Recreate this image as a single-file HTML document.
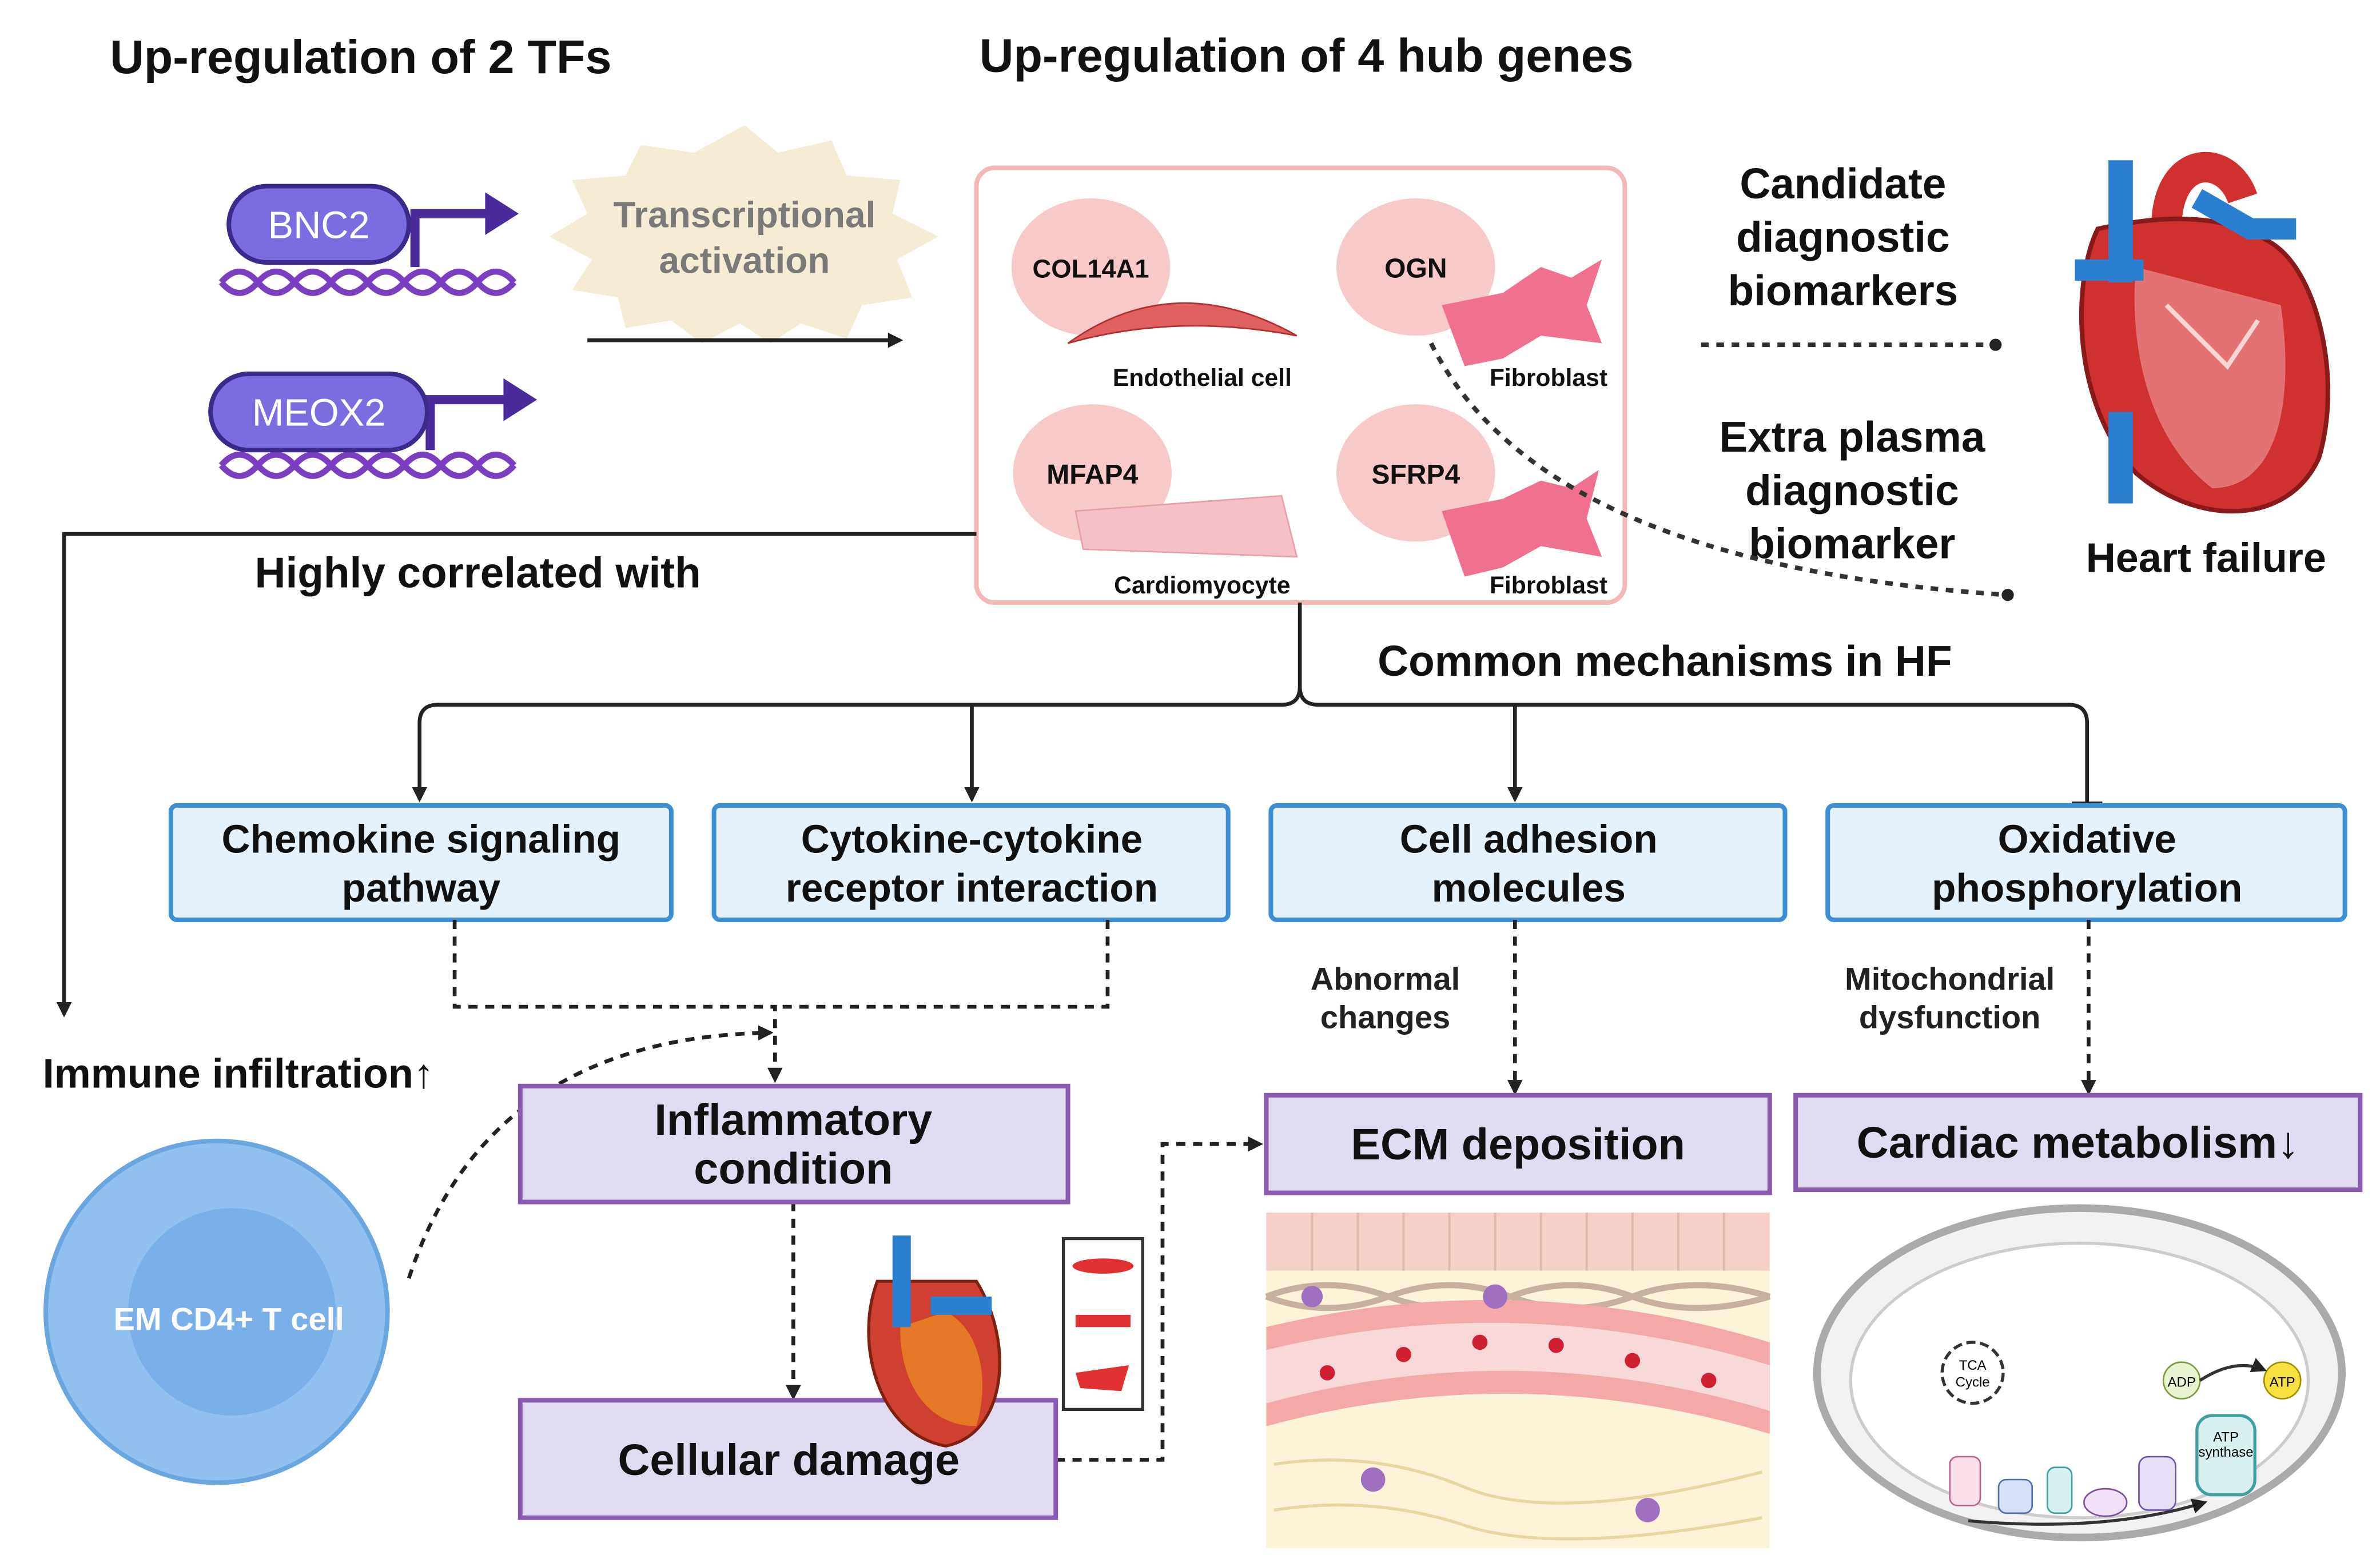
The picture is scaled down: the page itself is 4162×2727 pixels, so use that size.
<!DOCTYPE html>
<html><head><meta charset="utf-8"><style>html,body{margin:0;padding:0;background:#fff}svg{display:block}text{font-family:"Liberation Sans",sans-serif}</style></head>
<body>
<svg width="4162" height="2727" viewBox="0 0 1560 1022" xmlns="http://www.w3.org/2000/svg">
<defs>
<marker id="ah" markerWidth="10" markerHeight="10" refX="8" refY="5" orient="auto" markerUnits="userSpaceOnUse"><path d="M0,0 L10,5 L0,10 z" fill="#222"/></marker>
<marker id="dot" markerWidth="10" markerHeight="10" refX="5" refY="5" markerUnits="userSpaceOnUse"><circle cx="5" cy="5" r="4" fill="#222"/></marker>
</defs>
<g font-weight="bold" fill="#111">
<text x="72" y="48" font-size="31">Up-regulation of 2 TFs</text>
<text x="642" y="47" font-size="31">Up-regulation of 4 hub genes</text>
</g>
<!-- DNA -->
<g stroke="#7a3fc0" stroke-width="4" fill="none">
<path d="M145,185 q12,-14 24,0 t24,0 t24,0 t24,0 t24,0 t24,0 t24,0 t24,0"/>
<path d="M145,185 q12,14 24,0 t24,0 t24,0 t24,0 t24,0 t24,0 t24,0 t24,0"/>
<path d="M145,305 q12,-14 24,0 t24,0 t24,0 t24,0 t24,0 t24,0 t24,0 t24,0"/>
<path d="M145,305 q12,14 24,0 t24,0 t24,0 t24,0 t24,0 t24,0 t24,0 t24,0"/>
</g>
<g stroke="#4b2a9a" stroke-width="6" fill="none">
<path d="M272,175 V140 H320"/><path d="M282,295 V262 H332"/>
</g>
<path d="M318,126 L340,140 L318,154z" fill="#4b2a9a"/><path d="M330,248 L352,262 L330,276z" fill="#4b2a9a"/>
<rect x="150" y="122" width="118" height="50" rx="25" fill="#7b6ce0" stroke="#3b2a8a" stroke-width="3"/>
<text x="209" y="156" font-size="25" fill="#fff" text-anchor="middle">BNC2</text>
<rect x="138" y="245" width="142" height="50" rx="25" fill="#7b6ce0" stroke="#3b2a8a" stroke-width="3"/>
<text x="209" y="279" font-size="25" fill="#fff" text-anchor="middle">MEOX2</text>
<!-- starburst -->
<polygon points="488,82 510,100 545,92 555,115 590,118 585,140 615,155 588,170 598,195 565,200 555,222 525,212 505,225 485,212 460,225 440,210 410,215 405,195 375,190 388,170 360,155 385,140 375,118 410,115 420,95 455,100" fill="#f6ecd6"/>
<text x="488" y="149" font-size="24" font-weight="bold" fill="#7a7a7a" text-anchor="middle">Transcriptional</text>
<text x="488" y="179" font-size="24" font-weight="bold" fill="#7a7a7a" text-anchor="middle">activation</text>
<line x1="385" y1="223" x2="590" y2="223" stroke="#222" stroke-width="2.5" marker-end="url(#ah)"/>
<!-- hub box -->
<rect x="640" y="110" width="425" height="285" rx="12" fill="#fff" stroke="#f4b8b8" stroke-width="3"/>
<g fill="#f7c9c9">
<ellipse cx="715" cy="175" rx="52" ry="45"/><ellipse cx="928" cy="175" rx="52" ry="45"/>
<ellipse cx="716" cy="310" rx="52" ry="45"/><ellipse cx="928" cy="310" rx="52" ry="45"/>
</g>
<path d="M700,225 Q770,175 850,220 Q770,205 700,225z" fill="#e06060" stroke="#b03030"/>
<path d="M945,200 L985,192 L1010,175 L1030,182 L1050,170 L1040,200 L1050,225 L1010,220 L985,235 L960,240z" fill="#f07090"/>
<path d="M945,335 L985,327 L1010,315 L1030,320 L1048,308 L1040,340 L1050,365 L1010,358 L985,372 L960,378z" fill="#f07090"/>
<path d="M705,335 L840,325 L850,365 L710,360z" fill="#f7c0c8" stroke="#e8a0a8"/>
<g font-weight="bold" fill="#111" text-anchor="middle">
<text x="715" y="182" font-size="17">COL14A1</text><text x="928" y="182" font-size="18">OGN</text>
<text x="716" y="317" font-size="18">MFAP4</text><text x="928" y="317" font-size="18">SFRP4</text>
<text x="788" y="253" font-size="16">Endothelial cell</text><text x="1015" y="253" font-size="16">Fibroblast</text>
<text x="788" y="389" font-size="16">Cardiomyocyte</text><text x="1015" y="389" font-size="16">Fibroblast</text>
</g>
<g font-weight="bold" fill="#111" text-anchor="middle" font-size="28">
<text x="1208" y="130">Candidate</text><text x="1208" y="165">diagnostic</text><text x="1208" y="200">biomarkers</text>
<text x="1214" y="296">Extra plasma</text><text x="1214" y="331">diagnostic</text><text x="1214" y="366">biomarker</text>
<text x="1446" y="375" font-size="27">Heart failure</text>
</g>
<line x1="1115" y1="226" x2="1308" y2="226" stroke="#333" stroke-width="3" stroke-dasharray="5,5" marker-end="url(#dot)"/>
<path d="M938,225 Q1010,370 1316,390" fill="none" stroke="#333" stroke-width="3" stroke-dasharray="5,5" marker-end="url(#dot)"/>
<!-- heart -->
<path d="M1420,150 C1420,100 1460,100 1470,130" stroke="#d0302e" stroke-width="20" fill="none"/>
<path d="M1375,150 C1360,180 1355,260 1400,310 C1440,345 1500,345 1520,300 C1535,250 1520,180 1490,160 C1460,140 1420,140 1375,150z" fill="#d0302e" stroke="#8a1a1a" stroke-width="3"/>
<path d="M1400,175 C1395,230 1410,290 1450,320 C1490,320 1505,270 1495,200z" fill="#f0a0a0" opacity="0.6"/>
<path d="M1420,200 L1460,240 L1480,210" stroke="#fff" stroke-width="3" fill="none" opacity="0.7"/>
<rect x="1382" y="105" width="16" height="80" fill="#2a7fd0"/><rect x="1360" y="170" width="45" height="14" fill="#2a7fd0"/>
<rect x="1382" y="270" width="16" height="60" fill="#2a7fd0"/>
<path d="M1440,130 L1475,150 L1505,150" stroke="#2a7fd0" stroke-width="14" fill="none"/>
<!-- connectors -->
<path d="M640,350 H42 V665" fill="none" stroke="#222" stroke-width="2.5" marker-end="url(#ah)"/>
<text x="167" y="385" font-size="28" font-weight="bold" fill="#111">Highly correlated with</text>
<text x="903" y="443" font-size="28" font-weight="bold" fill="#111">Common mechanisms in HF</text>
<path d="M852,395 V450 Q852,462 840,462 H287 Q275,462 275,474 V524" fill="none" stroke="#222" stroke-width="2.5" marker-end="url(#ah)"/>
<path d="M852,450 Q852,462 864,462 H1356 Q1368,462 1368,474 V527" fill="none" stroke="#222" stroke-width="2.5"/>
<line x1="1358" y1="527" x2="1378" y2="527" stroke="#222" stroke-width="3"/>
<path d="M637,462 V524" stroke="#222" stroke-width="2.5" marker-end="url(#ah)"/>
<path d="M993,462 V524" stroke="#222" stroke-width="2.5" marker-end="url(#ah)"/>
<!-- blue boxes -->
<g fill="#e6f2fb" stroke="#3a8fd6" stroke-width="3">
<rect x="112" y="528" width="328" height="75" rx="4"/><rect x="468" y="528" width="337" height="75" rx="4"/>
<rect x="833" y="528" width="337" height="75" rx="4"/><rect x="1198" y="528" width="339" height="75" rx="4"/>
</g>
<g font-size="26" font-weight="bold" fill="#111" text-anchor="middle">
<text x="276" y="559">Chemokine signaling</text><text x="276" y="591">pathway</text>
<text x="637" y="559">Cytokine-cytokine</text><text x="637" y="591">receptor interaction</text>
<text x="1002" y="559">Cell adhesion</text><text x="1002" y="591">molecules</text>
<text x="1368" y="559">Oxidative</text><text x="1368" y="591">phosphorylation</text>
</g>
<g fill="none" stroke="#222" stroke-width="2.5" stroke-dasharray="6,5">
<path d="M298,603 V660 H508 V708" marker-end="url(#ah)"/>
<path d="M726,603 V660 H508"/>
<path d="M268,838 Q320,680 505,677" marker-end="url(#ah)"/>
<path d="M520,788 V916" marker-end="url(#ah)"/>
<path d="M692,957 H762 V750 H826" marker-end="url(#ah)"/>
<path d="M993,603 V716" marker-end="url(#ah)"/>
<path d="M1369,603 V716" marker-end="url(#ah)"/>
</g>
<g font-size="21" font-weight="bold" fill="#222" text-anchor="middle">
<text x="908" y="649">Abnormal</text><text x="908" y="674">changes</text>
<text x="1278" y="649">Mitochondrial</text><text x="1278" y="674">dysfunction</text>
</g>
<text x="28" y="713" font-size="27" font-weight="bold" fill="#111">Immune infiltration↑</text>
<circle cx="142" cy="860" r="112" fill="#8fc0f0" stroke="#6aa6e0" stroke-width="3"/>
<circle cx="152" cy="860" r="68" fill="#7ab0ea"/>
<text x="150" y="872" font-size="21" font-weight="bold" fill="#fff" text-anchor="middle">EM CD4+ T cell</text>
<!-- purple boxes -->
<g fill="#e0dbf0" stroke="#8a5cb0" stroke-width="3">
<rect x="341" y="712" width="359" height="76"/><rect x="341" y="918" width="351" height="77"/>
<rect x="830" y="718" width="330" height="64"/><rect x="1177" y="718" width="370" height="62"/>
</g>
<g font-size="29" font-weight="bold" fill="#111" text-anchor="middle">
<text x="520" y="744">Inflammatory</text><text x="520" y="776">condition</text>
<text x="517" y="967">Cellular damage</text>
<text x="995" y="760">ECM deposition</text>
<text x="1362" y="759">Cardiac metabolism↓</text>
</g>
<!-- small heart -->
<path d="M575,840 C560,880 575,940 620,948 C660,940 665,880 640,840z" fill="#d04030" stroke="#802010" stroke-width="2"/>
<path d="M590,870 C590,910 610,935 640,935 C650,900 640,870 620,860z" fill="#f0a020" opacity="0.6"/>
<rect x="585" y="810" width="12" height="60" fill="#2a7fd0"/><rect x="610" y="850" width="40" height="12" fill="#2a7fd0"/>
<rect x="697" y="812" width="52" height="112" fill="#fff" stroke="#333" stroke-width="2"/>
<g fill="#e03030"><ellipse cx="723" cy="830" rx="20" ry="5"/><rect x="705" y="862" width="36" height="8"/><path d="M705,900 L740,895 L735,912 L708,910z"/></g>
<!-- ECM pic -->
<rect x="830" y="795" width="330" height="220" fill="#fdf3d8"/>
<rect x="830" y="795" width="330" height="38" fill="#f6d0c8"/>
<g stroke="#e0b8b0" stroke-width="1.5">
<line x1="860" y1="795" x2="860" y2="833"/><line x1="890" y1="795" x2="890" y2="833"/><line x1="920" y1="795" x2="920" y2="833"/><line x1="950" y1="795" x2="950" y2="833"/><line x1="980" y1="795" x2="980" y2="833"/><line x1="1010" y1="795" x2="1010" y2="833"/><line x1="1040" y1="795" x2="1040" y2="833"/><line x1="1070" y1="795" x2="1070" y2="833"/><line x1="1100" y1="795" x2="1100" y2="833"/><line x1="1130" y1="795" x2="1130" y2="833"/>
</g>
<path d="M830,850 Q870,835 910,850 T990,850 T1070,850 T1160,850" fill="none" stroke="#c8b0a0" stroke-width="4"/>
<path d="M830,850 Q870,865 910,850 T990,850 T1070,850 T1160,850" fill="none" stroke="#c8b0a0" stroke-width="4"/>
<path d="M830,870 Q995,830 1160,880 L1160,940 Q995,890 830,935z" fill="#f4a8a8"/>
<path d="M830,885 Q995,845 1160,895 L1160,925 Q995,875 830,920z" fill="#f8d8d8"/>
<g fill="#d02030"><circle cx="870" cy="900" r="5"/><circle cx="920" cy="888" r="5"/><circle cx="970" cy="880" r="5"/><circle cx="1020" cy="882" r="5"/><circle cx="1070" cy="892" r="5"/><circle cx="1120" cy="905" r="5"/></g>
<g stroke="#e8d8a0" stroke-width="2" fill="none"><path d="M835,960 Q900,950 960,975 T1155,965"/><path d="M835,990 Q900,980 960,1000 T1155,995"/></g>
<g fill="#a070c0"><circle cx="900" cy="970" r="8"/><circle cx="980" cy="850" r="8"/><circle cx="1080" cy="990" r="8"/><circle cx="860" cy="850" r="7"/></g>
<!-- mito -->
<ellipse cx="1363" cy="900" rx="172" ry="108" fill="#f2f2f2" stroke="#aaa" stroke-width="5"/>
<ellipse cx="1363" cy="905" rx="150" ry="90" fill="#fff" stroke="#ccc" stroke-width="2"/>
<circle cx="1293" cy="900" r="20" fill="none" stroke="#333" stroke-width="2" stroke-dasharray="6,3"/>
<text x="1293" y="898" font-size="9" text-anchor="middle">TCA</text><text x="1293" y="909" font-size="9" text-anchor="middle">Cycle</text>
<circle cx="1430" cy="905" r="12" fill="#e8f4d0" stroke="#7a9a40"/><text x="1430" y="909" font-size="9" text-anchor="middle">ADP</text>
<circle cx="1496" cy="905" r="12" fill="#f8e040" stroke="#a09000"/><text x="1496" y="909" font-size="9" text-anchor="middle">ATP</text>
<rect x="1440" y="928" width="38" height="52" rx="10" fill="#d8f0f0" stroke="#40a0a0" stroke-width="2"/>
<text x="1459" y="945" font-size="9" text-anchor="middle">ATP</text><text x="1459" y="955" font-size="9" text-anchor="middle">synthase</text>
<rect x="1278" y="955" width="20" height="32" rx="5" fill="#fbe0ec" stroke="#c06090"/>
<rect x="1310" y="970" width="22" height="22" rx="5" fill="#d8e0f8" stroke="#5070b0"/>
<rect x="1342" y="962" width="16" height="30" rx="5" fill="#d8f0f0" stroke="#40a0a0"/>
<ellipse cx="1380" cy="985" rx="14" ry="9" fill="#f0e0f8" stroke="#8050a0"/>
<rect x="1402" y="955" width="24" height="35" rx="6" fill="#e8e0f8" stroke="#7050b0"/>
<path d="M1290,997 Q1380,1005 1445,985" fill="none" stroke="#333" stroke-width="2" marker-end="url(#ah)"/>
<path d="M1442,905 Q1465,890 1484,898" fill="none" stroke="#333" stroke-width="2" marker-end="url(#ah)"/>
</svg>
</body></html>
